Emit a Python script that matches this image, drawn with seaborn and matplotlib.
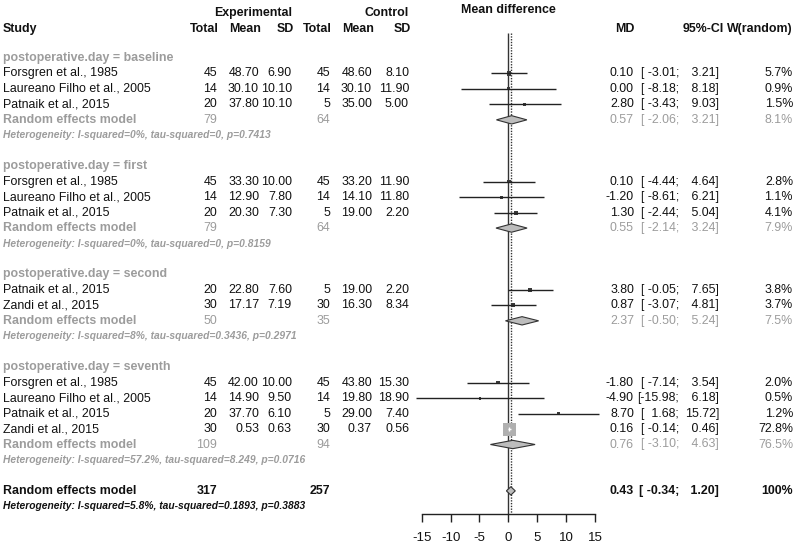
import numpy as np
import pandas as pd
import seaborn as sns
import matplotlib
matplotlib.use("Agg")
import matplotlib.pyplot as plt
from matplotlib.transforms import blended_transform_factory

sns.set_style("white")
plt.rcParams['font.family'] = ['Liberation Sans', 'DejaVu Sans']

# ---- data ----
groups = ["baseline", "first", "second", "seventh"]

study = ["Forsgren et al., 1985", "Laureano Filho et al., 2005", "Patnaik et al., 2015",
         "Forsgren et al., 1985", "Laureano Filho et al., 2005", "Patnaik et al., 2015",
         "Patnaik et al., 2015", "Zandi et al., 2015",
         "Forsgren et al., 1985", "Laureano Filho et al., 2005", "Patnaik et al., 2015",
         "Zandi et al., 2015"]
group_of = ["baseline"] * 3 + ["first"] * 3 + ["second"] * 2 + ["seventh"] * 4
e_total = [45, 14, 20, 45, 14, 20, 20, 30, 45, 14, 20, 30]
e_mean = [48.70, 30.10, 37.80, 33.30, 12.90, 20.30, 22.80, 17.17, 42.00, 14.90, 37.70, 0.53]
e_sd = [6.90, 10.10, 10.10, 10.00, 7.80, 7.30, 7.60, 7.19, 10.00, 9.50, 6.10, 0.63]
c_total = [45, 14, 5, 45, 14, 5, 5, 30, 45, 14, 5, 30]
c_mean = [48.60, 30.10, 35.00, 33.20, 14.10, 19.00, 19.00, 16.30, 43.80, 19.80, 29.00, 0.37]
c_sd = [8.10, 11.90, 5.00, 11.90, 11.80, 2.20, 2.20, 8.34, 15.30, 18.90, 7.40, 0.56]
md = [0.10, 0.00, 2.80, 0.10, -1.20, 1.30, 3.80, 0.87, -1.80, -4.90, 8.70, 0.16]
ci_lo = [-3.01, -8.18, -3.43, -4.44, -8.61, -2.44, -0.05, -3.07, -7.14, -15.98, 1.68, -0.14]
ci_hi = [3.21, 8.18, 9.03, 4.64, 6.21, 5.04, 7.65, 4.81, 3.54, 6.18, 15.72, 0.46]
weight = [5.7, 0.9, 1.5, 2.8, 1.1, 4.1, 3.8, 3.7, 2.0, 0.5, 1.2, 72.8]

sub_e_total = [79, 79, 50, 109]
sub_c_total = [64, 64, 35, 94]
sub_md = [0.57, 0.55, 2.37, 0.76]
sub_lo = [-2.06, -2.14, -0.50, -3.10]
sub_hi = [3.21, 3.24, 5.24, 4.63]
sub_w = [8.1, 7.9, 7.5, 76.5]
sub_het = ["I-squared=0%, tau-squared=0, p=0.7413",
           "I-squared=0%, tau-squared=0, p=0.8159",
           "I-squared=8%, tau-squared=0.3436, p=0.2971",
           "I-squared=57.2%, tau-squared=8.249, p=0.0716"]

all_e_total, all_c_total = 317, 257
all_md, all_lo, all_hi = 0.43, -0.34, 1.20
all_het = "I-squared=5.8%, tau-squared=0.1893, p=0.3883"

xticks = [-15, -10, -5, 0, 5, 10, 15]

# ---- layout ----
W, H = 800, 546
row0, row_h = 58.0, 15.46          # pixel y of first row, row height
axis_px = 514                      # pixel y of x axis line
x_left, x_right = 421.7, 595.0     # pixels of -15 and 15

GRAY = "#9c9c9c"
BLACK = "#111111"
FS = 8.9
FS_HET = 7.4

fig = plt.figure(figsize=(W / 100, H / 100), dpi=100)
ax = fig.add_axes([x_left / W, (H - axis_px) / H, (x_right - x_left) / W, axis_px / H])
ax.set_xlim(-15, 15)
ax.set_ylim((axis_px - row0) / row_h, -row0 / row_h)

tr = blended_transform_factory(fig.transFigure, ax.transData)


def put(xpx, r, s, ha="right", color=BLACK, weight="normal", style="normal", size=FS):
    ax.text(xpx / W, r, s, transform=tr, ha=ha, va="center", color=color,
            fontweight=weight, fontstyle=style, fontsize=size, clip_on=False)


# column right edges (pixels)
col_x = {"e_total": 217, "e_mean": 259, "e_sd": 292, "c_total": 330,
         "c_mean": 372, "c_sd": 409, "md": 634, "semi": 679, "hi": 719, "w": 793}

# headers
put(col_x["e_sd"], -2.9, "Experimental", weight="bold")
put(col_x["c_sd"], -2.9, "Control", weight="bold")
ax.text(0, -3.1, "Mean difference", ha="center", va="center", fontsize=FS,
        fontweight="bold", color=BLACK, clip_on=False)
put(3, -1.88, "Study", ha="left", weight="bold")
for key, lab in [("e_total", "Total"), ("e_mean", "Mean"), ("e_sd", "SD"),
                 ("c_total", "Total"), ("c_mean", "Mean"), ("c_sd", "SD")]:
    put(col_x[key] + 2, -1.88, lab, weight="bold")
put(col_x["md"] + 1, -1.88, "MD", weight="bold")
put(724, -1.88, "95%-CI", weight="bold")
put(col_x["w"], -1.88, "W(random)", weight="bold")


def ci_text(r, lo, hi, color=BLACK, weight="normal"):
    put(col_x["semi"], r, "[" + f"{lo:6.2f}" + ";", color=color, weight=weight)
    put(col_x["hi"], r, f"{hi:5.2f}" + "]", color=color, weight=weight)


# build rows
study_rows = []
r = 0
sub_rows = []
for g_i, g in enumerate(groups):
    put(3, r, f"postoperative.day = {g}", ha="left", color=GRAY, weight="bold")
    r += 1
    for i, gg in enumerate(group_of):
        if gg != g:
            continue
        study_rows.append(r)
        put(3, r, study[i], ha="left")
        put(col_x["e_total"], r, f"{e_total[i]}")
        put(col_x["e_mean"], r, f"{e_mean[i]:.2f}")
        put(col_x["e_sd"], r, f"{e_sd[i]:.2f}")
        put(col_x["c_total"], r, f"{c_total[i]}")
        put(col_x["c_mean"], r, f"{c_mean[i]:.2f}")
        put(col_x["c_sd"], r, f"{c_sd[i]:.2f}")
        put(col_x["md"], r, f"{md[i]:.2f}")
        ci_text(r, ci_lo[i], ci_hi[i])
        put(col_x["w"], r, f"{weight[i]:.1f}%")
        r += 1
    sub_rows.append(r)
    put(3, r, "Random effects model", ha="left", color=GRAY, weight="bold")
    put(col_x["e_total"], r, f"{sub_e_total[g_i]}", color=GRAY)
    put(col_x["c_total"], r, f"{sub_c_total[g_i]}", color=GRAY)
    put(col_x["md"], r, f"{sub_md[g_i]:.2f}", color=GRAY)
    ci_text(r, sub_lo[g_i], sub_hi[g_i], color=GRAY)
    put(col_x["w"], r, f"{sub_w[g_i]:.1f}%", color=GRAY)
    r += 1
    put(3, r, "Heterogeneity: " + sub_het[g_i], ha="left", color=GRAY,
        weight="bold", style="italic", size=FS_HET)
    r += 2

all_row = r
put(3, all_row, "Random effects model", ha="left", weight="bold")
put(col_x["e_total"], all_row, f"{all_e_total}", weight="bold")
put(col_x["c_total"], all_row, f"{all_c_total}", weight="bold")
put(col_x["md"], all_row, f"{all_md:.2f}", weight="bold")
ci_text(all_row, all_lo, all_hi, weight="bold")
put(col_x["w"], all_row, "100%", weight="bold")
put(3, all_row + 1, "Heterogeneity: " + all_het, ha="left",
    weight="bold", style="italic", size=FS_HET)

# ---- forest marks ----
df = pd.DataFrame({"md": md, "lo": ci_lo, "hi": ci_hi, "w": weight, "row": study_rows})

px_per_unit = (x_right - x_left) / 30
side_px = 13 * np.sqrt(df["w"] / max(weight))
df["inside"] = (df["hi"] - df["lo"]) * px_per_unit < side_px

# reference lines
top_r = -1.6
ax.vlines(0, top_r, ax.get_ylim()[0], color="#333333", lw=1.0, zorder=1)
ax.vlines(all_md, top_r, ax.get_ylim()[0], color="#333333", lw=1.0,
          linestyles=(0, (1, 1)), zorder=1)

out = df[~df["inside"]]
ax.hlines(out["row"], out["lo"], out["hi"], color="#222222", lw=1.0, zorder=4, clip_on=False)

sns.scatterplot(data=df, x="md", y="row", size="w", sizes=(4, 87.6), size_norm=(0.5, max(weight)),
                hue="inside", palette={True: "#b0b0b0", False: "#3a3a3a"},
                marker="s", linewidth=0, legend=False, ax=ax, zorder=3, clip_on=False)

ins = df[df["inside"]]
ax.hlines(ins["row"], ins["lo"], ins["hi"], color="white", lw=1.0, zorder=4)
ax.vlines(ins["md"], ins["row"] - 0.1, ins["row"] + 0.1, color="white", lw=1.0, zorder=4)

# diamonds
dh = 0.27
for rr, m, lo, hi in zip(sub_rows + [all_row], sub_md + [all_md], sub_lo + [all_lo], sub_hi + [all_hi]):
    ax.fill([lo, m, hi, m], [rr, rr - dh, rr, rr + dh], facecolor="#bdbdbd",
            edgecolor="#333333", lw=0.8, zorder=3)

# axis styling
ax.set_xlabel("")
ax.set_ylabel("")
ax.set_yticks([])
ax.set_xticks(xticks)
ax.set_xticklabels([str(t) for t in xticks])
for s in ["left", "right", "top"]:
    ax.spines[s].set_visible(False)
ax.spines["bottom"].set_color("#222222")
ax.spines["bottom"].set_linewidth(1.0)
ax.tick_params(axis="x", direction="out", length=6, width=1.0, color="#222222",
               labelsize=9.5, labelcolor=BLACK, pad=7, bottom=True)
ax.patch.set_alpha(0)

fig.savefig("out.png", dpi=100)
